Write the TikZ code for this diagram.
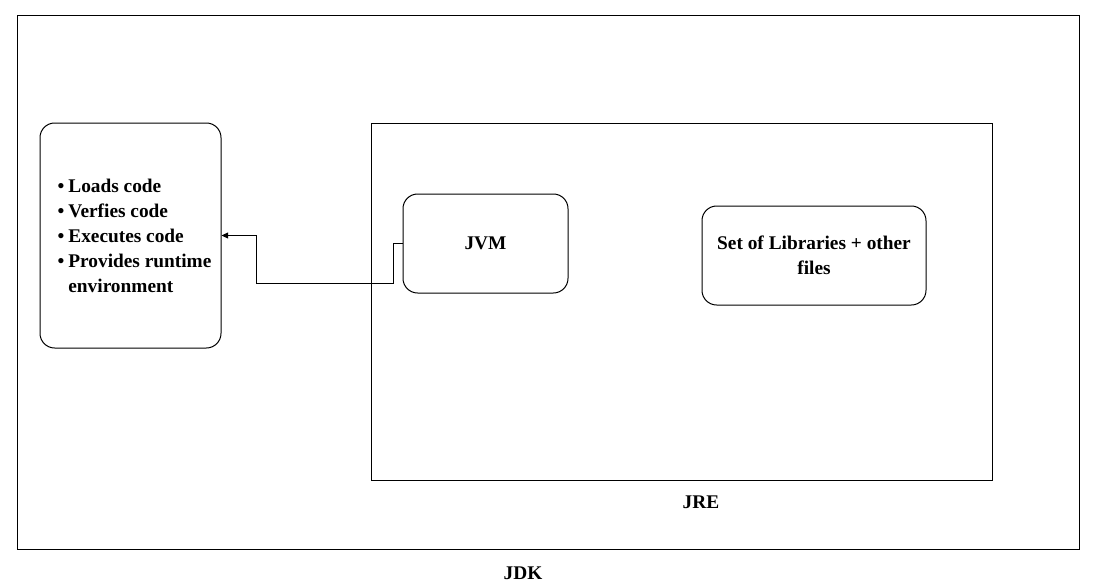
\documentclass[tikz,border=0pt]{standalone}
\usepackage{fontspec}
\setmainfont{Liberation Serif}
\usetikzlibrary{
	positioning,
	arrows.meta}
\newcommand{\bul}{\hspace*{6pt}\textbullet\hspace{3pt}}
\tikzset{
	px/.style={x=0.75pt, y=-0.75pt},
	frame/.style={
		rectangle,
		draw=black,
		line width=0.75pt,
		inner sep=0pt
	},
	round box/.style={
		rectangle,
		rounded corners=11pt,
		draw=black,
		line width=0.75pt,
		inner sep=0pt,
		font=\fontsize{14.5}{18.75}\selectfont\bfseries
	},
	caption/.style={
		inner sep=0pt,
		font=\fontsize{14.5}{18.75}\selectfont\bfseries
	},
	flow/.style={
		line width=0.75pt,
		-{Triangle[length=5pt, width=4.5pt]}
	},
}

\begin{document}
\begin{tikzpicture}[px]
	\useasboundingbox (0,0) rectangle (1097,586);
	\node[frame, minimum width=796.5pt, minimum height=400.5pt]      (jdk)   at (548,282)     {};
	\node[frame, minimum width=465.75pt, minimum height=267.75pt]    (jre)   at (681.5,301.5) {};
	\node[round box, minimum width=135.75pt, minimum height=168.75pt, align=left] (tasks) at (130.5,235.5)
		{\bul Loads code\\
		 \bul Verfies code\\
		 \bul Executes code\\
		 \bul Provides runtime\\
		 \phantom{\bul}environment};
	\node[round box, minimum width=123.75pt, minimum height=74.25pt] (jvm)  at (485.5,243.5) {JVM};
	\node[round box, minimum width=168pt, minimum height=74.25pt, align=center] (libs) at (814,255.5)
		{Set of Libraries + other\\files};
	\node[caption] (jrelabel) at (701,502) {JRE};
	\node[caption] (jdklabel) at (523,573) {JDK};
%
	\draw[flow] (jvm.west) -- ++(-9,0) -- ++(0,40) -- ++(-137,0) |- (tasks.east);
\end{tikzpicture}
\end{document}
